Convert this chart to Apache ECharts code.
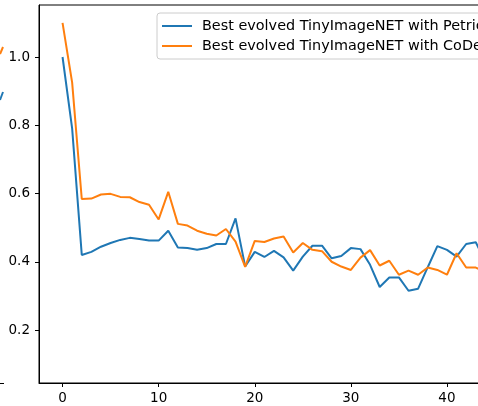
<!DOCTYPE html>
<html>
<head>
<meta charset="utf-8">
<script src="https://cdn.jsdelivr.net/npm/echarts@6/dist/echarts.min.js"></script>
<style>
  html, body { margin: 0; padding: 0; background: #fff; }
  #chart { width: 478px; height: 406px; }
</style>
</head>
<body>
<div id="chart"></div>
<script>
// Validation loss per generation for the best evolved TinyImageNET networks
const generations = [0,1,2,3,4,5,6,7,8,9,10,11,12,13,14,15,16,17,18,19,20,21,22,23,24,25,26,27,28,29,30,31,32,33,34,35,36,37,38,39,40,41,42,43,44];
const petric = [1.00,0.79,0.42,0.429,0.444,0.455,0.464,0.470,0.467,0.462,0.462,0.491,0.442,0.440,0.435,0.440,0.452,0.452,0.527,0.386,0.429,0.414,0.432,0.413,0.374,0.415,0.447,0.447,0.410,0.417,0.440,0.437,0.391,0.326,0.354,0.354,0.315,0.321,0.384,0.446,0.435,0.415,0.452,0.457,0.40];
const coDeepNeat = [1.10,0.925,0.584,0.585,0.597,0.599,0.590,0.589,0.575,0.567,0.524,0.605,0.511,0.506,0.491,0.482,0.477,0.496,0.459,0.385,0.461,0.458,0.468,0.474,0.427,0.455,0.435,0.431,0.400,0.386,0.376,0.412,0.434,0.389,0.403,0.362,0.374,0.362,0.383,0.376,0.362,0.425,0.383,0.383,0.37];
const seriesNames = ['Best evolved TinyImageNET with Petric', 'Best evolved TinyImageNET with CoDeepNEAT'];
const xTicks = [0, 10, 20, 30, 40, 50];
const yTicks = [0.2, 0.4, 0.6, 0.8, 1.0];

const FONT = 'DejaVu Sans';
const chart = echarts.init(document.getElementById('chart'), null, { renderer: 'canvas' });

chart.setOption({
  animation: false,
  backgroundColor: '#fff',
  grid: {
    left: 39, top: 5, width: 518, height: 378,
    outerBoundsMode: 'none', containLabel: false,
    show: true, borderColor: '#000', borderWidth: 1, backgroundColor: 'transparent'
  },
  xAxis: {
    type: 'value',
    min: -2.45, max: 51.45,
    axisLine: { show: true, onZero: false, lineStyle: { color: '#000', width: 1 } },
    axisTick: { show: true, length: 4, customValues: xTicks, lineStyle: { color: '#000', width: 1 } },
    axisLabel: { customValues: xTicks, color: '#000', fontFamily: FONT, fontSize: 13.5, margin: 8 },
    splitLine: { show: false }
  },
  yAxis: {
    type: 'value',
    min: 0.0447, max: 1.1524,
    axisLine: { show: true, onZero: false, lineStyle: { color: '#000', width: 1 } },
    axisTick: { show: true, length: 4, customValues: yTicks, lineStyle: { color: '#000', width: 1 } },
    axisLabel: {
      customValues: yTicks, color: '#000', fontFamily: FONT, fontSize: 13.5, margin: 9,
      formatter: v => Number(v).toFixed(1)
    },
    splitLine: { show: false }
  },
  legend: {
    left: 157, top: 13,
    orient: 'vertical',
    itemWidth: 30, itemHeight: 2, itemGap: 6,
    padding: [6, 6, 6, 5],
    backgroundColor: 'rgba(255,255,255,0.8)',
    borderColor: '#cccccc', borderWidth: 1, borderRadius: 3,
    textStyle: { color: '#000', fontFamily: FONT, fontSize: 14.4, padding: [0, 0, 0, 5] },
    icon: 'rect',
    data: seriesNames
  },
  series: [
    {
      name: seriesNames[0], type: 'line',
      data: generations.map((g, i) => [g, petric[i]]),
      showSymbol: false, symbol: 'none',
      lineStyle: { color: '#1f77b4', width: 2 }, itemStyle: { color: '#1f77b4' },
      clip: true
    },
    {
      name: seriesNames[1], type: 'line',
      data: generations.map((g, i) => [g, coDeepNeat[i]]),
      showSymbol: false, symbol: 'none',
      lineStyle: { color: '#ff7f0e', width: 2 }, itemStyle: { color: '#ff7f0e' },
      clip: true
    }
  ],
  // Edge of the neighbouring panel visible along the left border
  graphic: [
    { type: 'polyline', shape: { points: [[0, 54], [3, 47]] }, style: { stroke: '#ff7f0e', lineWidth: 2, fill: null } },
    { type: 'polyline', shape: { points: [[0, 100], [3, 92]] }, style: { stroke: '#1f77b4', lineWidth: 2, fill: null } },
    { type: 'line', shape: { x1: 0, y1: 383.5, x2: 4, y2: 383.5 }, style: { stroke: '#000', lineWidth: 1 } }
  ]
});
</script>
</body>
</html>
